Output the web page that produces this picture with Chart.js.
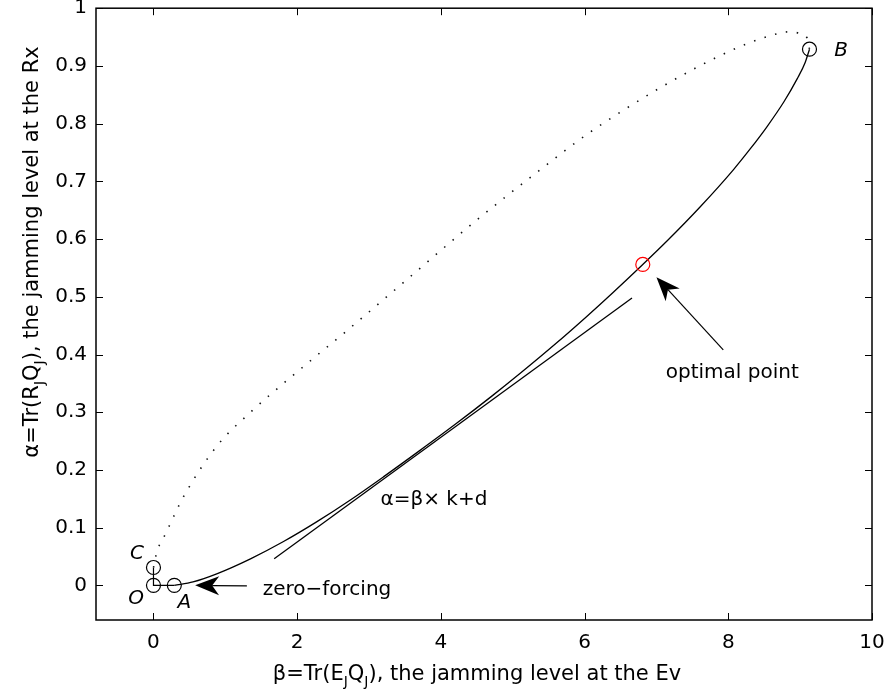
<!DOCTYPE html>
<html>
<head>
<meta charset="utf-8">
<title>Jamming levels</title>
<script src="https://cdn.jsdelivr.net/npm/chart.js@4.4.1/dist/chart.umd.min.js"></script>
<style>
    html, body { margin: 0; padding: 0; background: #fff; }
    canvas { display: block; }
</style>
</head>
<body>
<canvas id="regionChart" width="889" height="695"></canvas>
<script>
// lower boundary (solid), from A up to B
const lowerBeta  = [0.29, 0.55, 0.88, 1.35, 1.81, 2.27, 2.74, 3.2, 3.7, 4.2, 4.7, 5.1, 5.6, 6.03, 6.4, 6.81, 7.15, 7.61, 8.07, 8.31, 8.54, 8.77, 8.96, 9.07, 9.13];
const lowerAlpha = [0.0, 0.006, 0.020, 0.046, 0.076, 0.110, 0.148, 0.188, 0.233, 0.279, 0.327, 0.367, 0.419, 0.466, 0.508, 0.556, 0.597, 0.656, 0.720, 0.757, 0.795, 0.837, 0.878, 0.906, 0.929];

// upper boundary (dotted), from C over to B
const upperBeta  = [0, 0.05, 0.17, 0.42, 0.88, 1.35, 1.81, 2.27, 2.67, 3.5, 4.49, 5.32, 6.04, 6.55, 7.05, 7.57, 7.84, 8.25, 8.69, 8.84, 8.98, 9.10, 9.13];
const upperAlpha = [0.031, 0.059, 0.090, 0.154, 0.241, 0.300, 0.350, 0.398, 0.439, 0.527, 0.632, 0.714, 0.782, 0.824, 0.862, 0.898, 0.915, 0.938, 0.956, 0.959, 0.957, 0.948, 0.929];

// tangent line alpha = beta*k + d
const tangentBeta  = [1.68, 6.66];
const tangentAlpha = [0.046, 0.498];

// C - O - A corner
const cornerBeta  = [0, 0, 0.29];
const cornerAlpha = [0.031, 0, 0];

const markerBeta  = [0, 0.29, 0, 9.13];
const markerAlpha = [0, 0, 0.031, 0.929];
const optimalBeta  = [6.81];
const optimalAlpha = [0.556];

const xTicks = [0, 2, 4, 6, 8, 10];
const yTicks = [0, 0.1, 0.2, 0.3, 0.4, 0.5, 0.6, 0.7, 0.8, 0.9, 1];

const FONT = '"DejaVu Sans", "Liberation Sans", sans-serif';
const pts = (xs, ys) => xs.map((x, i) => ({ x: x, y: ys[i] }));

// point labels and text notes, placed in data units
const pointLabels = [
    { text: 'C', x: -0.23, y: 0.045 },
    { text: 'O', x: -0.24, y: -0.032 },
    { text: 'A', x: 0.43, y: -0.039 },
    { text: 'B', x: 9.57, y: 0.918 }
];
const notes = [
    { text: 'zero\u2212forcing', x: 1.52, y: -0.016 },
    { text: 'optimal point', x: 7.13, y: 0.359 },
    { text: '\u03b1=\u03b2\u00d7 k+d', x: 3.16, y: 0.140 }
];
const arrows = [
    { from: [1.30, -0.001], to: [0.58, 0] },
    { from: [7.93, 0.408], to: [7.00, 0.534] }
];

function drawRich(ctx, parts, x, y) {
    const main = '21px ' + FONT, sub = '14px ' + FONT;
    let total = 0;
    parts.forEach(p => {
        ctx.font = p.sub ? sub : main;
        p.w = ctx.measureText(p.t).width;
        total += p.w;
    });
    let cx = x - total / 2;
    parts.forEach(p => {
        ctx.font = p.sub ? sub : main;
        ctx.fillText(p.t, cx, p.sub ? y + 6 : y);
        cx += p.w;
    });
}

function drawArrow(ctx, x0, y0, x1, y1) {
    const len = Math.hypot(x1 - x0, y1 - y0);
    const ux = (x1 - x0) / len, uy = (y1 - y0) / len;
    const L = 24, W = 9.5, N = 17;
    ctx.beginPath();
    ctx.moveTo(x0, y0);
    ctx.lineTo(x1 - ux * N, y1 - uy * N);
    ctx.stroke();
    ctx.beginPath();
    ctx.moveTo(x1, y1);
    ctx.lineTo(x1 - ux * L - uy * W, y1 - uy * L + ux * W);
    ctx.lineTo(x1 - ux * N, y1 - uy * N);
    ctx.lineTo(x1 - ux * L + uy * W, y1 - uy * L - ux * W);
    ctx.closePath();
    ctx.fill();
}

const decorations = {
    id: 'decorations',
    afterDraw(chart) {
        const { ctx, chartArea: a, scales: { x, y } } = chart;
        ctx.save();
        ctx.strokeStyle = '#000';
        ctx.fillStyle = '#000';

        // axes box with inward ticks on all four sides
        ctx.lineWidth = 1.5;
        ctx.strokeRect(a.left, a.top, a.right - a.left, a.bottom - a.top);
        ctx.lineWidth = 1;
        ctx.beginPath();
        xTicks.forEach(v => {
            const px = Math.round(x.getPixelForValue(v)) + 0.5;
            ctx.moveTo(px, a.bottom); ctx.lineTo(px, a.bottom - 7);
            ctx.moveTo(px, a.top); ctx.lineTo(px, a.top + 7);
        });
        yTicks.forEach(v => {
            const py = Math.round(y.getPixelForValue(v)) + 0.5;
            ctx.moveTo(a.left, py); ctx.lineTo(a.left + 7, py);
            ctx.moveTo(a.right, py); ctx.lineTo(a.right - 7, py);
        });
        ctx.stroke();

        // point names
        ctx.textBaseline = 'alphabetic';
        ctx.textAlign = 'center';
        ctx.font = 'italic 20px ' + FONT;
        pointLabels.forEach(l => {
            ctx.fillText(l.text, x.getPixelForValue(l.x), y.getPixelForValue(l.y));
        });

        // notes and arrows
        ctx.textAlign = 'left';
        ctx.font = '20px ' + FONT;
        notes.forEach(n => {
            ctx.fillText(n.text, x.getPixelForValue(n.x), y.getPixelForValue(n.y));
        });
        ctx.lineWidth = 1.2;
        arrows.forEach(r => {
            drawArrow(ctx,
                x.getPixelForValue(r.from[0]), y.getPixelForValue(r.from[1]),
                x.getPixelForValue(r.to[0]), y.getPixelForValue(r.to[1]));
        });

        // axis titles with subscripts
        drawRich(ctx, [
            { t: '\u03b2=Tr(E' }, { t: 'J', sub: true }, { t: 'Q' }, { t: 'J', sub: true },
            { t: '), the jamming level at the Ev' }
        ], 477, 680);

        ctx.translate(38, 252);
        ctx.rotate(-Math.PI / 2);
        drawRich(ctx, [
            { t: '\u03b1=Tr(R' }, { t: 'J', sub: true }, { t: 'Q' }, { t: 'J', sub: true },
            { t: '), the jamming level at the Rx' }
        ], 0, 0);
        ctx.restore();
    }
};

function fixWidth(size) {
    return function (scale) {
        if (scale.isHorizontal()) scale.height = size; else scale.width = size;
        scale.paddingTop = 0; scale.paddingBottom = 0;
        scale.paddingLeft = 0; scale.paddingRight = 0;
    };
}

const tickFont = { family: FONT, size: 20 };

new Chart(document.getElementById('regionChart').getContext('2d'), {
    type: 'scatter',
    data: {
        datasets: [
            {
                data: pts(markerBeta, markerAlpha),
                pointRadius: 7,
                pointBorderWidth: 1.2,
                pointBorderColor: '#000',
                pointBackgroundColor: 'rgba(0,0,0,0)'
            },
            {
                data: pts(optimalBeta, optimalAlpha),
                pointRadius: 7,
                pointBorderWidth: 1.2,
                pointBorderColor: '#ff0000',
                pointBackgroundColor: 'rgba(0,0,0,0)'
            },
            {
                data: pts(lowerBeta, lowerAlpha),
                showLine: true,
                pointRadius: 0,
                borderColor: '#000',
                borderWidth: 1.3,
                cubicInterpolationMode: 'monotone'
            },
            {
                data: pts(upperBeta, upperAlpha),
                showLine: true,
                pointRadius: 0,
                borderColor: '#111',
                borderWidth: 1.6,
                borderDash: [1.5, 9.5],
                cubicInterpolationMode: 'monotone'
            },
            {
                data: pts(tangentBeta, tangentAlpha),
                showLine: true,
                pointRadius: 0,
                borderColor: '#000',
                borderWidth: 1.3
            },
            {
                data: pts(cornerBeta, cornerAlpha),
                showLine: true,
                pointRadius: 0,
                borderColor: '#000',
                borderWidth: 1.2
            }
        ]
    },
    options: {
        responsive: false,
        animation: false,
        events: [],
        layout: { padding: { left: 0, top: 7, right: 17, bottom: 0 } },
        plugins: {
            legend: { display: false },
            tooltip: { enabled: false }
        },
        scales: {
            x: {
                type: 'linear',
                min: -0.8,
                max: 10,
                grid: { display: false, drawTicks: false },
                border: { display: false },
                ticks: { font: tickFont, color: '#000', padding: 11, callback: v => String(v) },
                afterBuildTicks: s => { s.ticks = xTicks.map(v => ({ value: v })); },
                afterFit: fixWidth(75)
            },
            y: {
                type: 'linear',
                min: -0.06,
                max: 1,
                grid: { display: false, drawTicks: false },
                border: { display: false },
                ticks: { font: tickFont, color: '#000', padding: 9, callback: v => String(v) },
                afterBuildTicks: s => { s.ticks = yTicks.map(v => ({ value: v })); },
                afterFit: fixWidth(96)
            }
        }
    },
    plugins: [decorations]
});
</script>
</body>
</html>
